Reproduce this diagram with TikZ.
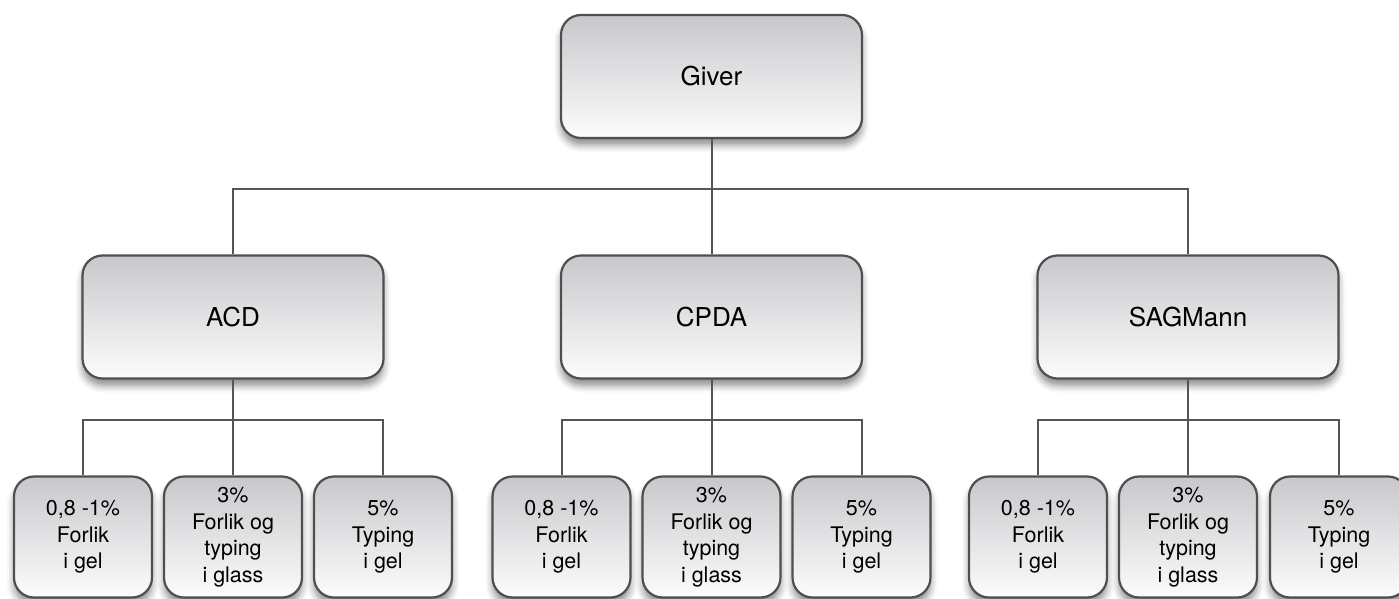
\documentclass[tikz,border=0pt]{standalone}
\usepackage{fontspec}
\setmainfont{TeX Gyre Heros}
\usepackage{xcolor}
\definecolor{chartline}{HTML}{555555}
\definecolor{chartedge}{HTML}{4F4F4F}
\definecolor{charttop}{HTML}{C9C7CB}
\definecolor{chartbot}{HTML}{FCFCFC}
\usetikzlibrary{shadows.blur}

\begin{document}
\begin{tikzpicture}[
  x=1pt,
  y=-1pt,
  box/.style={draw=chartedge, line width=2.2pt, rounded corners=20pt,
    top color=charttop, bottom color=chartbot,
    blur shadow={shadow xshift=0pt, shadow yshift=-7pt,
      shadow blur radius=7pt, shadow opacity=45},
    align=center, inner sep=0pt},
  bigbox/.style={box, minimum width=301pt, minimum height=123pt,
    font=\fontsize{26}{30}\selectfont},
  leafbox/.style={box, minimum width=138pt, minimum height=121pt,
    font=\fontsize{21.5}{26.5}\selectfont},
  wire/.style={draw=chartline, line width=2pt}
]
  \useasboundingbox (0,0) rectangle (1399,599);

  % top level
  \node[bigbox] (giver) at (711.5,76.5) {Giver};

  % second level
  \node[bigbox] (acd)  at (233,317) {ACD};
  \node[bigbox] (cpda) at (711.5,317) {CPDA};
  \node[bigbox] (sag)  at (1188,317) {SAGMann};

  % leaves
  \node[leafbox] (acdA) at (83,537)  {0,8 -1\%\\Forlik\\i gel};
  \node[leafbox] (acdB) at (233,537) {3\%\\Forlik og\\typing\\i glass};
  \node[leafbox] (acdC) at (383,537) {5\%\\Typing\\i gel};

  \node[leafbox] (cpdaA) at (561.5,537) {0,8 -1\%\\Forlik\\i gel};
  \node[leafbox] (cpdaB) at (711.5,537) {3\%\\Forlik og\\typing\\i glass};
  \node[leafbox] (cpdaC) at (861.5,537) {5\%\\Typing\\i gel};

  \node[leafbox] (sagA) at (1038,537) {0,8 -1\%\\Forlik\\i gel};
  \node[leafbox] (sagB) at (1188,537) {3\%\\Forlik og\\typing\\i glass};
  \node[leafbox] (sagC) at (1339,537) {5\%\\Typing\\i gel};

  % connectors
  \draw[wire] (giver.south) -- ++(0,50) -| (acd.north);
  \draw[wire] (giver.south) -- (cpda.north);
  \draw[wire] (giver.south) -- ++(0,50) -| (sag.north);

  \draw[wire] (acd.south) -- ++(0,40) -| (acdA.north);
  \draw[wire] (acd.south) -- (acdB.north);
  \draw[wire] (acd.south) -- ++(0,40) -| (acdC.north);

  \draw[wire] (cpda.south) -- ++(0,40) -| (cpdaA.north);
  \draw[wire] (cpda.south) -- (cpdaB.north);
  \draw[wire] (cpda.south) -- ++(0,40) -| (cpdaC.north);

  \draw[wire] (sag.south) -- ++(0,40) -| (sagA.north);
  \draw[wire] (sag.south) -- (sagB.north);
  \draw[wire] (sag.south) -- ++(0,40) -| (sagC.north);
\end{tikzpicture}
\end{document}
